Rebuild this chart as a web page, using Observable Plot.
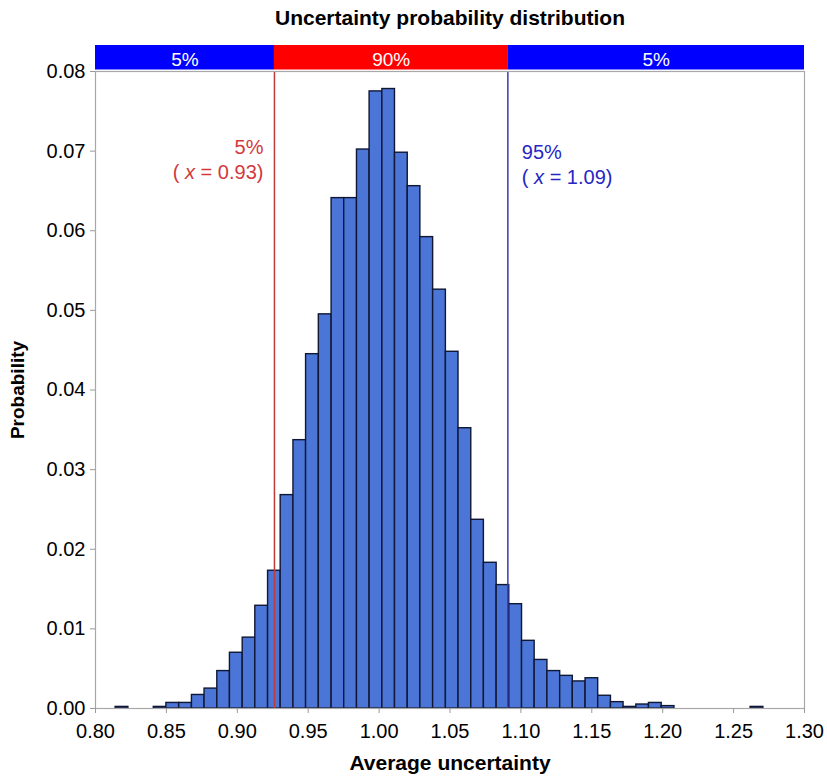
<!DOCTYPE html>
<html>
<head>
<meta charset="utf-8">
<script src="https://cdn.jsdelivr.net/npm/d3@7"></script>
<script src="https://cdn.jsdelivr.net/npm/@observablehq/plot@0.6"></script>
<style>
  html, body { margin: 0; padding: 0; background: #fff; }
  #chart svg { display: block; }
</style>
</head>
<body>
<div id="chart"></div>
<script>
// ---- data ----
const binEdges = [0.8142, 0.8232, 0.8321, 0.8411, 0.8500, 0.8590, 0.8680, 0.8769, 0.8859, 0.8948,
  0.9038, 0.9127, 0.9217, 0.9306, 0.9396, 0.9485, 0.9575, 0.9665, 0.9754, 0.9844,
  0.9933, 1.0023, 1.0112, 1.0202, 1.0291, 1.0381, 1.0471, 1.0560, 1.0650, 1.0739,
  1.0829, 1.0918, 1.1008, 1.1097, 1.1187, 1.1277, 1.1366, 1.1456, 1.1545, 1.1635,
  1.1724, 1.1814, 1.1903, 1.1993, 1.2083, 1.2172, 1.2262, 1.2351, 1.2441, 1.2530,
  1.2620, 1.2710];
const probabilities = [0.0002, 0, 0, 0.0002, 0.0007, 0.0007, 0.0017, 0.0025, 0.0047, 0.0070,
  0.0089, 0.0129, 0.0173, 0.0268, 0.0337, 0.0445, 0.0495, 0.0641, 0.0641, 0.0702,
  0.0775, 0.0778, 0.0698, 0.0656, 0.0592, 0.0526, 0.0448, 0.0352, 0.0237, 0.0183,
  0.0155, 0.0131, 0.0085, 0.0061, 0.0047, 0.0041, 0.0034, 0.0038, 0.0016, 0.0008,
  0.0002, 0.0005, 0.0007, 0.0003, 0, 0, 0, 0, 0, 0,
  0.0002];
const xTicks = [0.80, 0.85, 0.90, 0.95, 1.00, 1.05, 1.10, 1.15, 1.20, 1.25, 1.30];
const yTicks = [0.00, 0.01, 0.02, 0.03, 0.04, 0.05, 0.06, 0.07, 0.08];
const bandEdges = [0.80, 0.9262, 1.0908, 1.30];
const bandLabels = ["5%", "90%", "5%"];
const bandColors = ["#0000ff", "#ff0000", "#0000ff"];
const lowerQuantile = {x: 0.9262, pct: "5%", label: "( x = 0.93)"};
const upperQuantile = {x: 1.0908, pct: "95%", label: "( x = 1.09)"};
const title = "Uncertainty probability distribution";
const xLabel = "Average uncertainty";
const yLabel = "Probability";

// ---- tables for the library ----
const bins = probabilities.map((p, i) => ({x1: binEdges[i], x2: binEdges[i + 1], p})).filter(d => d.p > 0);
const bands = bandLabels.map((label, i) => ({x1: bandEdges[i], x2: bandEdges[i + 1], label, color: bandColors[i],
  mid: (bandEdges[i] + bandEdges[i + 1]) / 2}));

const redText = "#d3393b", blueText = "#2626c4";

const chart = Plot.plot({
  width: 827,
  height: 776,
  marginLeft: 95,
  marginRight: 23,
  marginTop: 71,
  marginBottom: 68,
  style: {fontFamily: "'Liberation Sans', Arial, sans-serif", fontSize: "20px", background: "#fff"},
  x: {domain: [0.8, 1.3]},
  y: {domain: [0, 0.08]},
  marks: [
    Plot.rectY(bins, {x1: "x1", x2: "x2", y: "p", fill: "#4b75d6", stroke: "#0f1733", strokeWidth: 1.4, inset: 0}),
    Plot.ruleX([lowerQuantile.x], {stroke: "#c23b3b", strokeWidth: 1.5}),
    Plot.ruleX([upperQuantile.x], {stroke: "#3a3aad", strokeWidth: 1.5}),
    Plot.frame({stroke: "#a8a8a8", strokeWidth: 1.2}),
    Plot.rect(bands, {x1: "x1", x2: "x2", y1: () => 0.08, y2: () => 0.08, fill: "color", insetTop: -26, insetBottom: 1.5}),
    Plot.text(bands, {x: "mid", y: () => 0.08, text: "label", fill: "white", fontSize: 19, dy: -12, lineAnchor: "middle"}),
    Plot.text([lowerQuantile], {x: "x", text: "pct", frameAnchor: "top", dy: 76, dx: -11, textAnchor: "end", fill: redText, fontSize: 20, lineAnchor: "middle"}),
    Plot.text([lowerQuantile], {x: "x", text: "label", frameAnchor: "top", dy: 101, dx: -11, textAnchor: "end", fill: redText, fontSize: 20, lineAnchor: "middle"}),
    Plot.text([upperQuantile], {x: "x", text: "pct", frameAnchor: "top", dy: 81, dx: 14, textAnchor: "start", fill: blueText, fontSize: 20, lineAnchor: "middle"}),
    Plot.text([upperQuantile], {x: "x", text: "label", frameAnchor: "top", dy: 106, dx: 14, textAnchor: "start", fill: blueText, fontSize: 20, lineAnchor: "middle"}),
    Plot.axisX({ticks: xTicks, tickFormat: d3.format(".2f"), tickSize: 5, tickPadding: 10, stroke: "#999", fill: "black", fontSize: 20, label: null}),
    Plot.axisY({ticks: yTicks, tickFormat: d3.format(".2f"), tickSize: 5, tickPadding: 5, stroke: "#999", fill: "black", fontSize: 20, label: null}),
    Plot.text([title], {frameAnchor: "top", dy: -53, fontSize: 21, fontWeight: "bold", lineAnchor: "middle", fill: "black"}),
    Plot.text([xLabel], {frameAnchor: "bottom", dy: 55, fontSize: 21, fontWeight: "bold", lineAnchor: "middle", fill: "black"}),
    Plot.text([yLabel], {frameAnchor: "left", dx: -78, rotate: -90, textAnchor: "middle", fontSize: 19, fontWeight: "bold", lineAnchor: "middle", fill: "black"})
  ]
});

d3.select(chart).selectAll("text").each(function() {
  const t = this.textContent;
  const m = /^\( x (= .*)$/.exec(t);
  if (m) {
    const sel = d3.select(this);
    sel.text(null);
    sel.append("tspan").text("( ");
    sel.append("tspan").attr("font-style", "italic").text("x");
    sel.append("tspan").text(" " + m[1]);
  }
});

document.getElementById("chart").appendChild(chart);
</script>
</body>
</html>
